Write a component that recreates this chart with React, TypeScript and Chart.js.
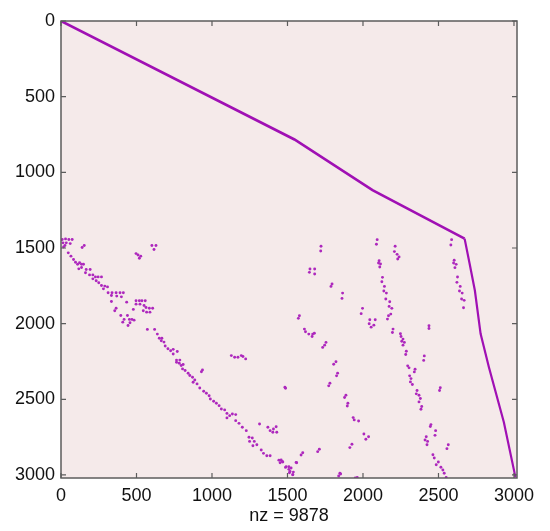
import React, { useEffect, useRef } from 'react';
import { Chart, registerables } from 'chart.js';

Chart.register(...registerables);

const N = 3020;
const tickValues = [0, 500, 1000, 1500, 2000, 2500, 3000];
const xTitle = 'nz = 9878';

// main diagonal chain (vertices)
const diagTop: number[][] = [[0, 0], [1546, 783], [2063, 1118], [2673, 1438]];
const diagSteep: number[][] = [[2673, 1438], [2706, 1603], [2741, 1781], [2779, 2067], [2834, 2288], [2933, 2652], [3010, 3016]];

// lower-left band of nonzeros
const lowerBand: number[][] = [
  [8, 1444], [30, 1440], [52, 1444], [74, 1444], [13, 1466], [35, 1466], [61, 1471], [17, 1493], [26, 1484], [140, 1497], [154, 1484],
  [48, 1532], [66, 1554], [83, 1576], [96, 1594], [110, 1607], [123, 1598], [136, 1607], [149, 1607], [118, 1638], [136, 1629],
  [167, 1642], [193, 1642], [162, 1664], [189, 1678], [211, 1678], [228, 1691], [246, 1691], [268, 1691], [211, 1704], [233, 1717],
  [250, 1730], [268, 1748], [290, 1752], [308, 1757], [281, 1770], [312, 1796], [338, 1796], [365, 1796], [391, 1796], [413, 1796],
  [334, 1814], [369, 1818], [400, 1823], [334, 1854], [435, 1858],
  [365, 1898], [356, 1915], [396, 1946], [418, 1972], [409, 1990], [440, 1946], [453, 1972], [470, 1972], [484, 1977], [457, 1994], [444, 2012],
  [572, 2038], [620, 2038], [638, 2069], [651, 2096], [668, 2096], [664, 2113], [682, 2122], [690, 2148], [708, 2166], [726, 2179],
  [743, 2170], [770, 2184], [743, 2201], [765, 2241], [787, 2241],
  [765, 2255], [783, 2262], [796, 2277], [809, 2270], [805, 2299], [822, 2310], [842, 2328], [853, 2343], [871, 2354], [886, 2372],
  [875, 2387], [901, 2398], [919, 2425], [945, 2447], [963, 2460], [981, 2476], [989, 2498], [1011, 2513], [1029, 2526], [1047, 2542],
  [1062, 2564], [1084, 2570], [1099, 2593], [1117, 2608], [1135, 2597], [1157, 2601], [1099, 2623], [1157, 2641], [1179, 2659],
  [1201, 2685], [1227, 2707], [1245, 2751], [1267, 2756], [1249, 2778], [1280, 2778], [1271, 2807], [1297, 2800], [1326, 2835],
  [1341, 2857], [1363, 2873], [1385, 2873], [1443, 2902], [1465, 2911], [1487, 2950], [1509, 2946], [1517, 2977], [1535, 2999],
];

// small clusters off the band
const offBand: number[][] = [
  [497, 1537], [510, 1546], [528, 1554], [519, 1568], [602, 1484], [616, 1510], [629, 1484],
  [497, 1849], [519, 1849], [536, 1849], [558, 1849], [497, 1871], [523, 1871], [550, 1880], [563, 1893], [585, 1898], [607, 1898],
  [479, 1906], [545, 1915], [567, 1924], [589, 1924],
  [1128, 2211], [1150, 2222], [1172, 2222], [1194, 2211], [1205, 2217], [1223, 2233], [937, 2306], [930, 2318],
  [1487, 2427], [1483, 2420], [1315, 2663], [1370, 2685], [1385, 2707], [1407, 2696], [1425, 2681], [1429, 2718], [1403, 2718], [1557, 2917],
];

// middle streaks
const midScatter: number[][] = [
  [1722, 1489], [1720, 1520], [1649, 1639], [1680, 1639], [1645, 1661], [1680, 1672], [1795, 1738], [1788, 1754], [1865, 1798], [1861, 1833],
  [1579, 1948], [1572, 1965], [1612, 2036], [1619, 2054], [1641, 2069], [1667, 2069], [1663, 2085], [1678, 2063], [1755, 2124], [1746, 2142],
  [1733, 2157], [1821, 2252], [1806, 2268], [1832, 2327], [1825, 2345], [1781, 2394], [1773, 2411], [1887, 2473], [1878, 2488], [1900, 2526],
  [1896, 2544], [1935, 2621], [1942, 2636], [1971, 2643], [1927, 2797], [1913, 2819], [1711, 2830], [1700, 2846], [1601, 2853], [1590, 2868],
  [1561, 2919], [1458, 2901], [1469, 2914], [1451, 2919], [1491, 2945], [1509, 2963], [1524, 2954], [1539, 2981], [1513, 2985], [1535, 2998],
  [1847, 2989], [1839, 3007], [1852, 2994], [1949, 3020], [1962, 3016], [2006, 2729], [2037, 2747], [2019, 2764],
];

// right-hand streaks
const rightScatter: number[][] = [
  [2094, 1445], [2089, 1475], [2213, 1489], [2208, 1524], [2226, 1542], [2239, 1559], [2230, 1573], [2107, 1584], [2103, 1599], [2116, 1606],
  [2111, 1626], [2129, 1694], [2125, 1723], [2142, 1754], [2138, 1784], [2155, 1798], [2151, 1837], [2177, 1855], [2173, 1886], [2191, 1899],
  [2184, 1937], [2169, 1948], [2162, 1970], [1997, 1899], [1988, 1934], [2045, 1974], [2081, 1974], [2041, 2001], [2072, 2010], [2054, 2023],
  [2199, 2036], [2195, 2058], [2248, 2067], [2252, 2085], [2265, 2102], [2257, 2116], [2274, 2124], [2265, 2142], [2287, 2182], [2283, 2204],
  [2296, 2279], [2305, 2292], [2345, 2301], [2340, 2319], [2309, 2345], [2318, 2363], [2314, 2385], [2327, 2402], [2358, 2442], [2353, 2464],
  [2371, 2473], [2380, 2495], [2371, 2517], [2389, 2548], [2384, 2566], [2437, 2014], [2437, 2032], [2406, 2213], [2402, 2243], [2512, 2424],
  [2507, 2442], [2450, 2667], [2446, 2680], [2481, 2707], [2477, 2738], [2419, 2747], [2411, 2769], [2428, 2778], [2424, 2800], [2565, 2800],
  [2556, 2826], [2463, 2866], [2472, 2888], [2499, 2914], [2485, 2932], [2516, 2949], [2529, 2967], [2538, 2989], [2551, 3016],
  [2587, 1445], [2582, 1480], [2604, 1581], [2600, 1599], [2617, 1608], [2609, 1630], [2626, 1692], [2622, 1727], [2644, 1754], [2639, 1784],
  [2657, 1798], [2653, 1837], [2670, 1846], [2666, 1895],
];

const FONT = '"Liberation Sans", Arial, Helvetica, sans-serif';
const PLOT_BG = '#f5eaea';
const MARK = '#a010b4';
const DOT = '#ad28bd';
const AXIS = '#5c5c5c';

const toXY = (arr: number[][]) => arr.map(([x, y]) => ({ x, y }));

const boxPlugin = {
  id: 'spyBox',
  beforeDatasetsDraw(chart: any) {
    const { ctx, chartArea: a } = chart;
    ctx.save();
    ctx.fillStyle = PLOT_BG;
    ctx.fillRect(a.left, a.top, a.right - a.left, a.bottom - a.top);
    ctx.restore();
  },
  afterDatasetsDraw(chart: any) {
    const { ctx, chartArea: a } = chart;
    const xs = chart.scales.x;
    const ys = chart.scales.y;
    const len = 5;
    ctx.save();
    ctx.strokeStyle = AXIS;
    ctx.lineWidth = 1.5;
    ctx.strokeRect(a.left, a.top, a.right - a.left, a.bottom - a.top);
    ctx.lineWidth = 1.2;
    ctx.beginPath();
    for (const v of tickValues) {
      const px = xs.getPixelForValue(v);
      ctx.moveTo(px, a.bottom);
      ctx.lineTo(px, a.bottom - len);
      ctx.moveTo(px, a.top);
      ctx.lineTo(px, a.top + len);
      const py = ys.getPixelForValue(v);
      ctx.moveTo(a.left, py);
      ctx.lineTo(a.left + len, py);
      ctx.moveTo(a.right, py);
      ctx.lineTo(a.right - len, py);
    }
    ctx.stroke();
    ctx.restore();
  },
};

export default function App() {
  const ref = useRef<HTMLCanvasElement | null>(null);

  useEffect(() => {
    if (!ref.current) return;
    const dotStyle = {
      type: 'scatter' as const,
      pointRadius: 1.45,
      pointBorderWidth: 0,
      pointBackgroundColor: DOT,
      showLine: false,
    };
    const chart = new Chart(ref.current, {
      type: 'scatter',
      data: {
        datasets: [
          {
            data: toXY(diagTop),
            showLine: true,
            borderColor: MARK,
            borderWidth: 2.6,
            pointRadius: 0,
            tension: 0,
          } as any,
          {
            data: toXY(diagSteep),
            showLine: true,
            borderColor: MARK,
            borderWidth: 2.2,
            pointRadius: 0,
            tension: 0,
          } as any,
          { ...dotStyle, data: toXY(lowerBand) },
          { ...dotStyle, data: toXY(offBand) },
          { ...dotStyle, data: toXY(midScatter) },
          { ...dotStyle, data: toXY(rightScatter) },
        ],
      },
      options: {
        responsive: false,
        animation: false,
        layout: { padding: { top: 21, right: 33, left: 0, bottom: 0 } },
        plugins: { legend: { display: false }, tooltip: { enabled: false } },
        scales: {
          x: {
            type: 'linear',
            position: 'bottom',
            min: 0,
            max: N,
            grid: { display: false, drawTicks: false },
            border: { display: false },
            afterBuildTicks: (s: any) => { s.ticks = tickValues.map((v) => ({ value: v })); },
            afterFit: (s: any) => { s.height = 53; },
            ticks: {
              padding: 7,
              color: '#111',
              font: { family: FONT, size: 18 },
              callback: (v: any) => String(v),
            },
            title: {
              display: true,
              text: xTitle,
              color: '#111',
              font: { family: FONT, size: 18 },
              padding: { top: 0, bottom: 4 },
            },
          },
          y: {
            type: 'linear',
            reverse: true,
            min: 0,
            max: N,
            grid: { display: false, drawTicks: false },
            border: { display: false },
            afterBuildTicks: (s: any) => { s.ticks = tickValues.map((v) => ({ value: v })); },
            afterFit: (s: any) => { s.width = 61; },
            ticks: {
              padding: 6,
              color: '#111',
              font: { family: FONT, size: 18 },
              callback: (v: any) => String(v),
            },
          },
        },
      },
      plugins: [boxPlugin],
    });
    return () => chart.destroy();
  }, []);

  return (
    <div style={{ position: 'absolute', left: 0, top: 0, width: 550, height: 531, background: '#fff' }}>
      <canvas ref={ref} width={550} height={531} style={{ display: 'block' }} />
    </div>
  );
}
